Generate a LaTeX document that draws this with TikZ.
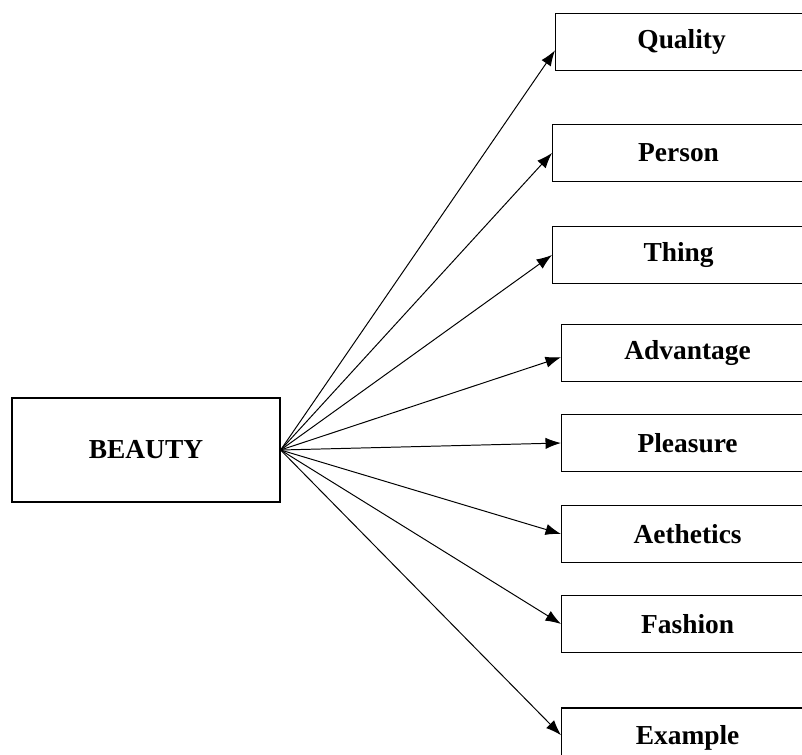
\documentclass[tikz,border=0pt]{standalone}
\usepackage{fontspec}
\setmainfont{Liberation Serif}
\usetikzlibrary{arrows.meta}

\tikzset{
  mainbox/.style={draw,line width=0.8pt,minimum width=6.7cm,minimum height=2.6cm,font=\fontsize{19.5}{23}\selectfont\bfseries},
  sensebox/.style={draw,line width=0.8pt,anchor=west,minimum width=6.3cm,minimum height=1.43cm,font=\fontsize{19.5}{23}\selectfont\bfseries},
  sensearrow/.style={line width=0.7pt,-{Latex[length=11pt,width=8pt]}}
}

\begin{document}
\begin{tikzpicture}[x=0.025cm,y=-0.025cm]
\useasboundingbox (0,0) rectangle (802,755);
\clip (0,0) rectangle (802,755);

% Left side - the word
\node[mainbox] (beauty) at (146,450) {BEAUTY};

% Right side - its senses
\node[sensebox] (quality)   at (555,42)  {Quality};
\node[sensebox] (person)    at (552,153) {Person};
\node[sensebox] (thing)     at (552,255) {Thing};
\node[sensebox] (advantage) at (561,353) {Advantage};
\node[sensebox] (pleasure)  at (561,443) {Pleasure};
\node[sensebox] (aethetics) at (561,534) {Aethetics};
\node[sensebox] (fashion)   at (561,624) {Fashion};
\node[sensebox,minimum height=1.5cm] (example) at (561,738) {Example};

% Arrows
\draw[sensearrow] (beauty.east) -- ([yshift=-6pt]quality.west);
\draw[sensearrow] (beauty.east) -- (person.west);
\draw[sensearrow] (beauty.east) -- (thing.west);
\draw[sensearrow] (beauty.east) -- ([yshift=-3pt]advantage.west);
\draw[sensearrow] (beauty.east) -- (pleasure.west);
\draw[sensearrow] (beauty.east) -- (aethetics.west);
\draw[sensearrow] (beauty.east) -- (fashion.west);
\draw[sensearrow] (beauty.east) -- ([yshift=2pt]example.west);
\end{tikzpicture}
\end{document}
